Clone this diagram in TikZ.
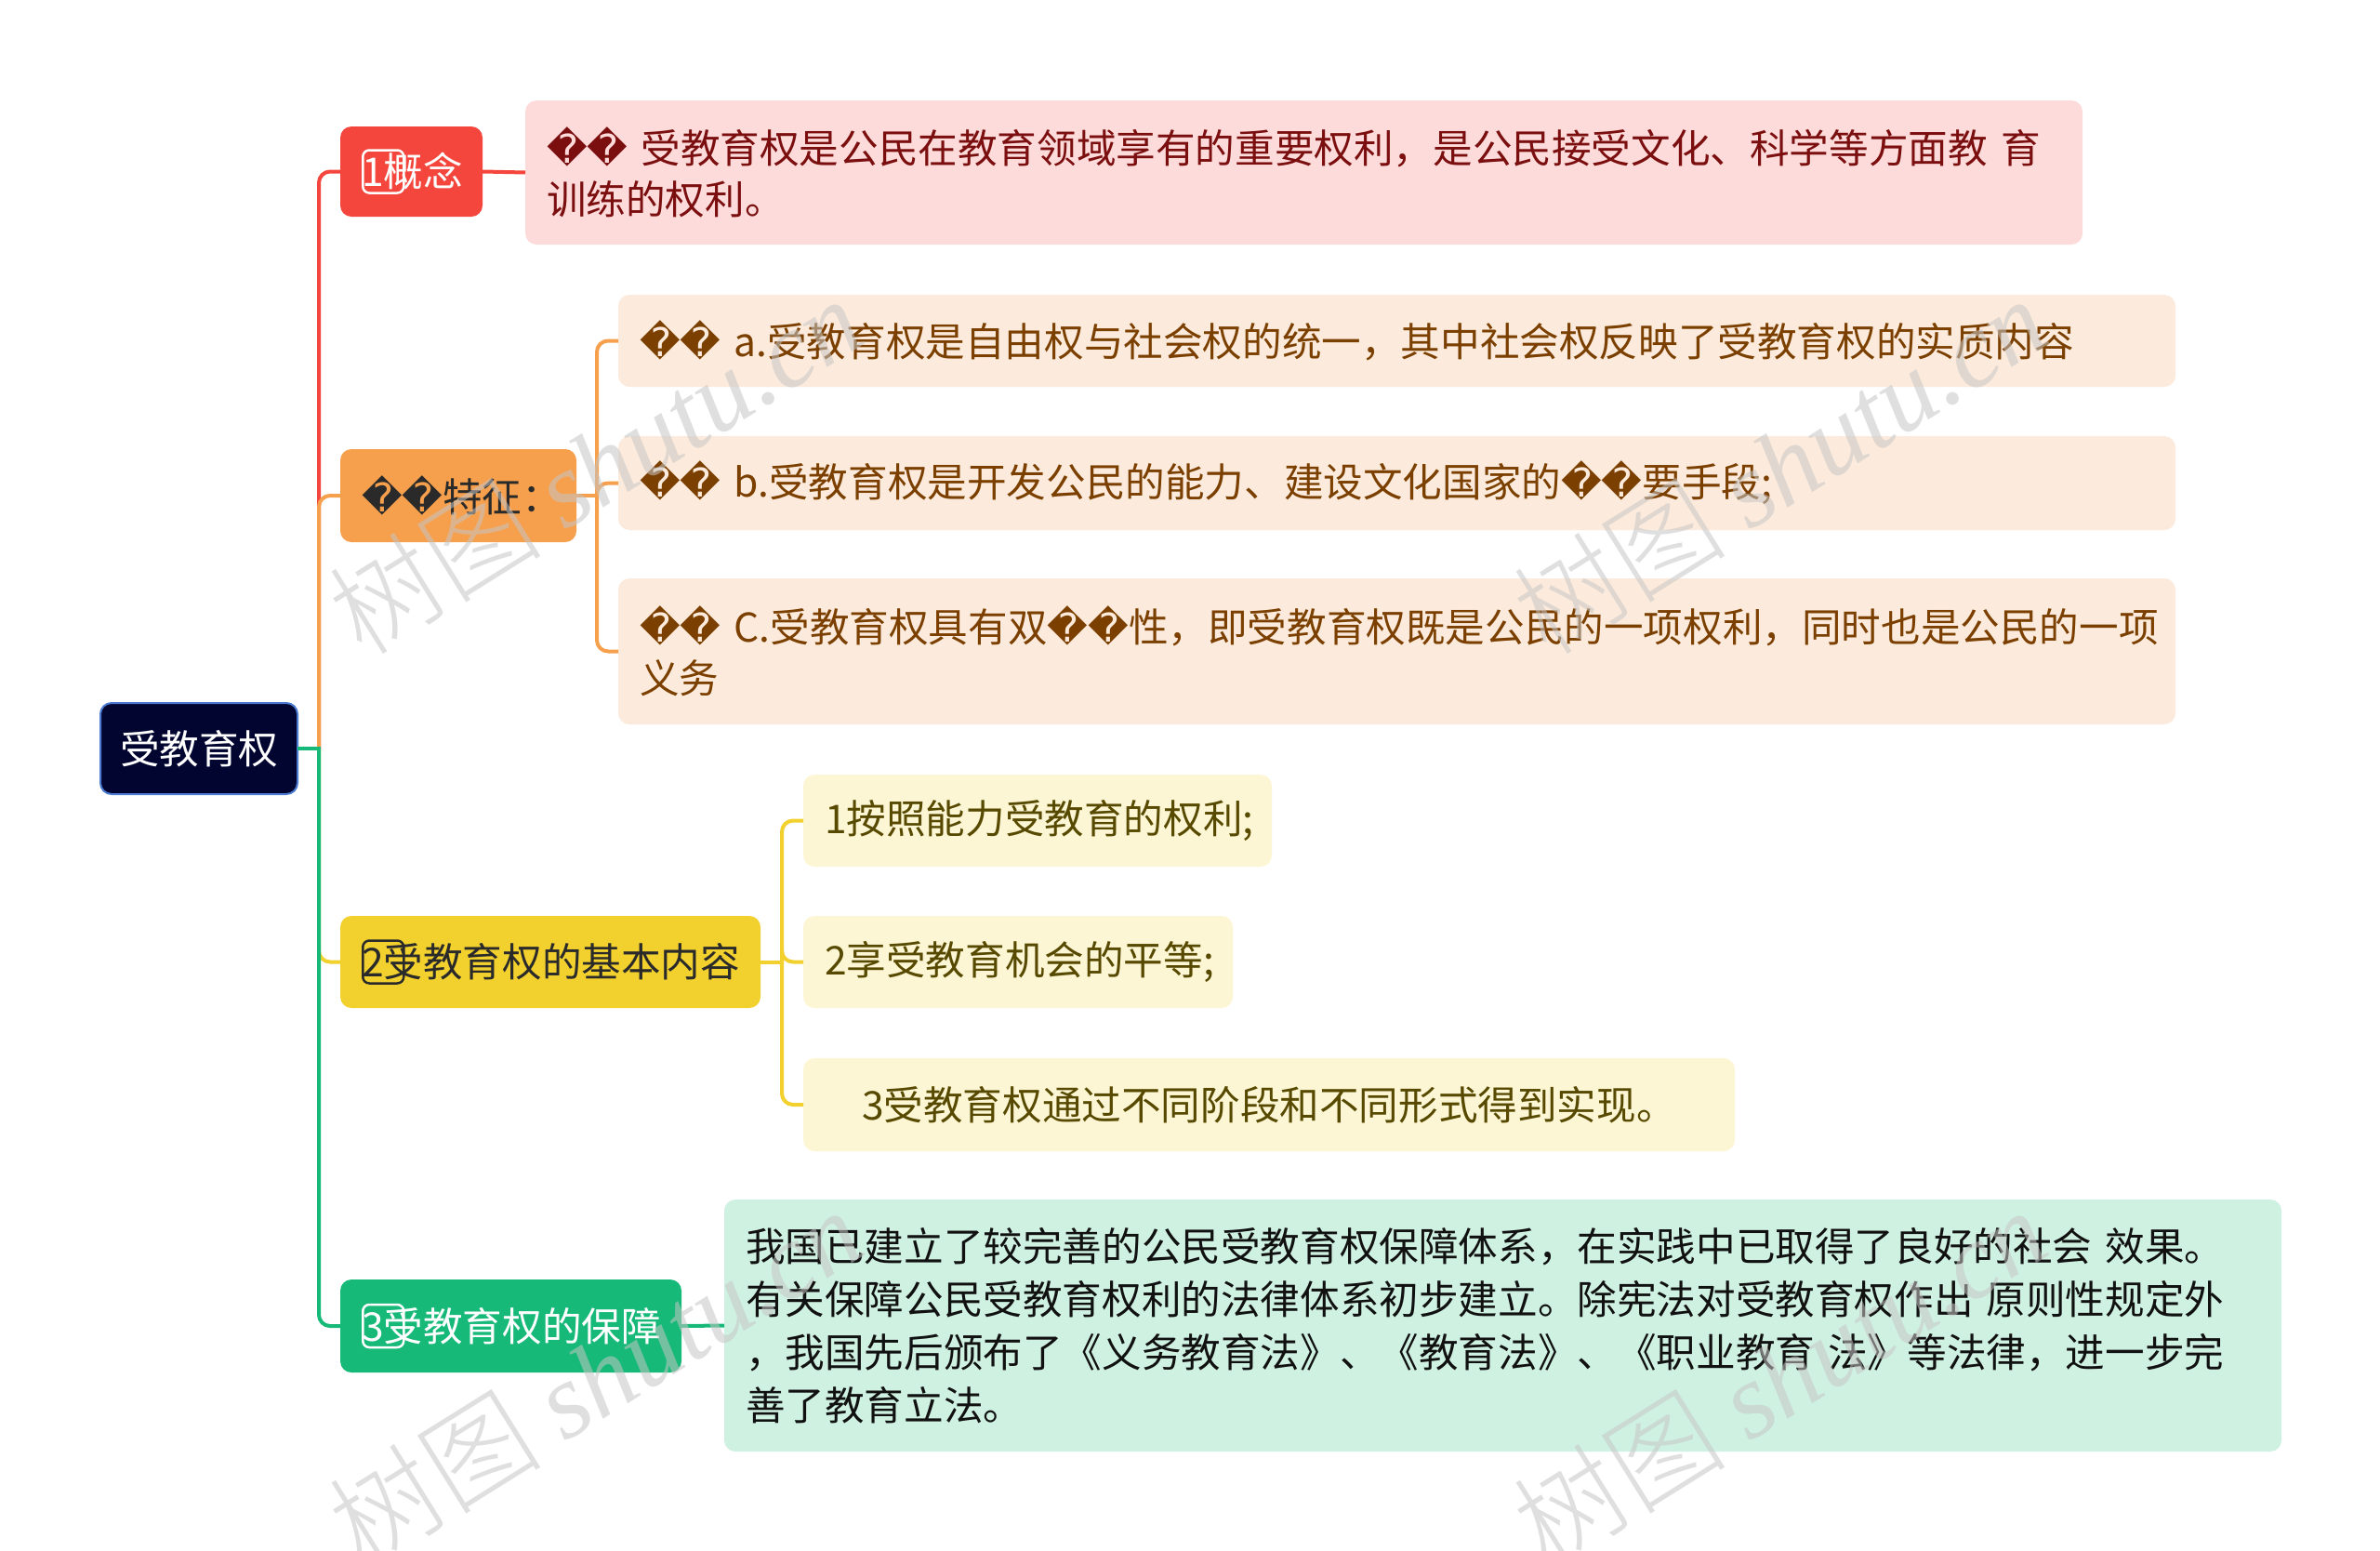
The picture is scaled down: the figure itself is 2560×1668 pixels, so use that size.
\documentclass[tikz,border=0pt]{standalone}
\usepackage{fontspec}
\setmainfont{Noto Sans CJK SC}
\newfontfamily\dv{DejaVu Sans}
\newfontfamily\wmserif{Liberation Serif}
\newfontfamily\wmcjk{Noto Sans CJK SC Light}
\usetikzlibrary{calc}
\definecolor{cRed}{HTML}{F4463C}
\definecolor{cPink}{HTML}{FDDBDB}
\definecolor{cOrange}{HTML}{F6A04D}
\definecolor{cPeach}{HTML}{FCEBDC}
\definecolor{cYellow}{HTML}{F2D12E}
\definecolor{cLYellow}{HTML}{FDF6D5}
\definecolor{cGreen}{HTML}{16B978}
\definecolor{cMint}{HTML}{CFF1E2}
\definecolor{cRoot}{HTML}{010530}
\definecolor{cRootB}{HTML}{4A7BD0}
\definecolor{tRed}{HTML}{7B0E0E}
\definecolor{tBrown}{HTML}{7B3F00}
\definecolor{tOlive}{HTML}{574A00}
\definecolor{tDark}{HTML}{2A2A2A}
\definecolor{tBlack}{HTML}{111111}
\newcommand\rp{{\dv\char"FFFD}}
\newcommand\kbox[1]{\makebox[0pt][l]{\tikz[baseline=0pt]\draw[#1,line width=2.5pt,rounded corners=7pt] (0pt,-7pt) rectangle (44pt,39pt);}}
\tikzset{
  box/.style={rounded corners=12pt, inner xsep=23pt, inner ysep=0pt, outer sep=0pt,
    anchor=north west, align=left, font=\fontsize{42.6}{55}\selectfont},
  conn/.style={line width=4pt, rounded corners=12pt},
  wm/.style={text=gray!45, opacity=0.55, font=\fontsize{115}{115}\selectfont, rotate=32}
}
\begin{document}
\begin{tikzpicture}[x=1pt,y=-1pt]
\useasboundingbox (0,0) rectangle (2560,1668);
\fill[white] (0,0) rectangle (2560,1668);

% nodes
\node[box, fill=cRoot, draw=cRootB, line width=2pt, text=white, align=center, inner xsep=21pt, text width=170pt, minimum height=98pt] (root) at (108,756) {受教育权};

\node[box, fill=cRed, text=white, text width=107pt, minimum height=97pt] (gn) at (366,136) {\kbox{white}1概念};
\node[box, fill=cPink, text=tRed, text width=1629pt, minimum height=155pt] (gnc) at (565,108) {\rp\rp~受教育权是公民在教育领域享有的重要权利，是公民接受文化、科学等方面教~育\\训练的权利。};

\node[box, fill=cOrange, text=tDark, text width=208pt, minimum height=100pt] (tz) at (366,483) {\rp\rp 特征：};
\node[box, fill=cPeach, text=tBrown, text width=1629pt, minimum height=99pt] (ta) at (665,317) {\rp\rp~a.受教育权是自由权与社会权的统一，其中社会权反映了受教育权的实质内容};
\node[box, fill=cPeach, text=tBrown, text width=1629pt, minimum height=101pt] (tb) at (665,469) {\rp\rp~b.受教育权是开发公民的能力、建设文化国家的\rp\rp 要手段;};
\node[box, fill=cPeach, text=tBrown, text width=1629pt, minimum height=157pt] (tc) at (665,622) {\rp\rp~C.受教育权具有双\rp\rp 性，即受教育权既是公民的一项权利，同时也是公民的一项\\义务};

\node[box, fill=cYellow, text=tDark, text width=406pt, minimum height=99pt] (jb) at (366,985) {\kbox{tDark}2受教育权的基本内容};
\node[box, fill=cLYellow, text=tOlive, text width=458pt, minimum height=99pt] (j1) at (864,833) {1按照能力受教育的权利;};
\node[box, fill=cLYellow, text=tOlive, text width=416pt, minimum height=99pt] (j2) at (864,985) {2享受教育机会的平等;};
\node[box, fill=cLYellow, text=tOlive, text width=956pt, minimum height=100pt] (j3) at (864,1138) {\hspace*{40pt}3受教育权通过不同阶段和不同形式得到实现。};

\node[box, fill=cGreen, text=white, text width=321pt, minimum height=100pt] (bz) at (366,1376) {\kbox{white}3受教育权的保障};
\node[box, fill=cMint, text=tBlack, text width=1629pt, minimum height=271pt, font=\fontsize{42.6}{57}\selectfont] (bzc) at (779,1290) {我国已建立了较完善的公民受教育权保障体系，在实践中已取得了良好的社会~效果。\\有关保障公民受教育权利的法律体系初步建立。除宪法对受教育权作出~原则性规定外\\，我国先后颁布了《义务教育法》、《教育法》、《职业教育~法》等法律，进一步完\\善了教育立法。};

% connectors
\coordinate (hub) at ($(root.east)+(23,0)$);
\coordinate (h2) at ($(tz.east)+(22,0)$);
\coordinate (h3) at ($(jb.east)+(23,0)$);
\draw[conn, cRed] (hub) |- (gn.west);
\draw[conn, cYellow] (hub) |- (jb.west);
\draw[conn, cOrange] (hub) |- (tz.west);
\draw[conn, cGreen] (hub) |- (bz.west);
\draw[conn, cGreen] (root.east) -- ($(hub)+(2,0)$);
\draw[conn, cRed] (gn.east) -- (gnc.west);
\draw[conn, cOrange] (tz.east) -- (h2);
\draw[conn, cOrange] (h2) |- (ta.west);
\draw[conn, cOrange] (h2) |- (tb.west);
\draw[conn, cOrange] (h2) |- (tc.west);
\draw[conn, cYellow] (jb.east) -- (h3);
\draw[conn, cYellow] (h3) |- (j1.west);
\draw[conn, cYellow] (h3) |- (j2.west);
\draw[conn, cYellow] (h3) |- (j3.west);
\draw[conn, cGreen] (bz.east) -- (bzc.west);

% watermarks
\begin{scope}
\clip (0,0) rectangle (2560,1668);
\node[wm] (wm1) at (640,500) {{\wmcjk 树图}~{\wmserif\itshape shutu.cn}};
\node[wm] (wm2) at (1914,500) {{\wmcjk 树图}~{\wmserif\itshape shutu.cn}};
\node[wm] (wm3) at (640,1480) {{\wmcjk 树图}~{\wmserif\itshape shutu.cn}};
\node[wm] (wm4) at (1914,1480) {{\wmcjk 树图}~{\wmserif\itshape shutu.cn}};
\end{scope}
\end{tikzpicture}
\end{document}
